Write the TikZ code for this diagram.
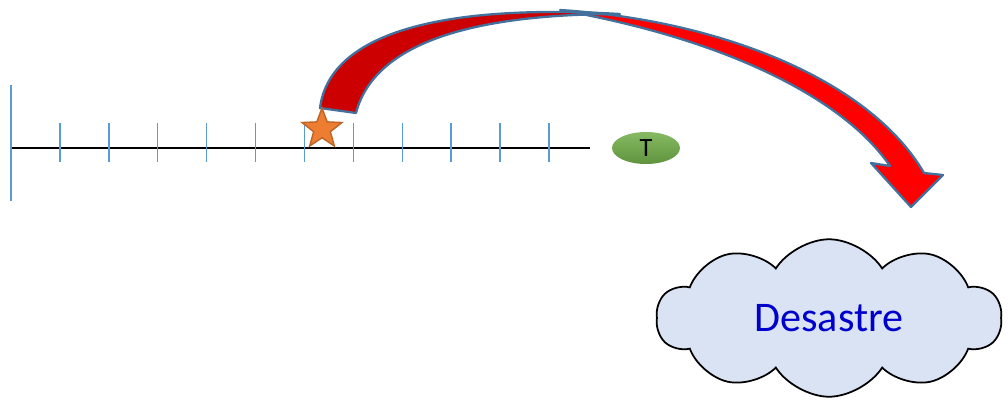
\documentclass[tikz,border=0pt]{standalone}
\usepackage{fontspec}
\newfontfamily\calibri{Carlito}
\usetikzlibrary{shapes.geometric}
\usetikzlibrary{shapes.symbols}
\definecolor{tblue}{RGB}{91,155,213}
\definecolor{aedge}{RGB}{65,113,156}
\definecolor{mdred}{RGB}{204,0,0}
\definecolor{mgreen}{RGB}{112,173,71}
\definecolor{morange}{RGB}{237,125,49}
\definecolor{mcloud}{RGB}{218,227,243}
\definecolor{mtext}{RGB}{0,0,204}

\begin{document}
\begin{tikzpicture}[x=0.02cm, y=-0.02cm,
    tick/.style={tblue, line width=0.8pt},
    band/.style={draw=aedge, line width=1.3pt, line join=round}]
    \useasboundingbox (0,0) rectangle (1008,400);

    \draw [line width=0.8pt] (11,148) -- (590,148);
    \draw [tick] (11,85) -- (11,201);
    \foreach \i in {1,...,11}
        \draw [tick] (11+48.9*\i,123) -- (11+48.9*\i,162);

    \filldraw [band, fill=red] (560,10) .. controls (720,20) and (870,80) .. (924,173) -- (943,175) -- (911,207) -- (871,163) -- (890,166) .. controls (845,100) and (730,40) .. (560,10) -- cycle;
    \filldraw [band, fill=mdred] (320,108) .. controls (330,30) and (450,4) .. (620,14) .. controls (480,14) and (375,40) .. (356,113) -- cycle;

    % star on the time line
    \coordinate (event) at (322,129);
    \filldraw [fill=morange, draw=morange!80!black, line width=0.8pt, line join=miter] ([shift={(-90:21)}]event)
        \foreach \k in {0,...,4} { -- ([shift={(-54+72*\k:8.8)}]event) -- ([shift={(-18+72*\k:21)}]event) } -- cycle;

    \node [ellipse, minimum width=1.36cm, minimum height=0.64cm, inner sep=0pt, top color=mgreen!85!white, bottom color=mgreen!85!black, font=\calibri\fontsize{15}{15}\selectfont] (T) at (646,148) {T};
    \node [cloud, cloud puffs=10, cloud puff arc=115, aspect=2.2, minimum width=6.9cm, minimum height=3.15cm, fill=mcloud, draw, line width=1pt, text=mtext, font=\calibri\fontsize{24}{24}\selectfont] (desastre) at (829,318) {Desastre};
\end{tikzpicture}
\end{document}
